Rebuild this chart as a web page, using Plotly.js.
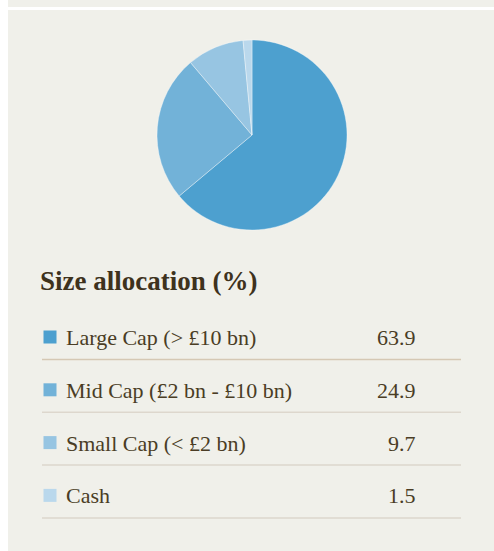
<!DOCTYPE html>
<html>
<head>
<meta charset="utf-8">
<script src="https://cdn.plot.ly/plotly-3.0.1.min.js"></script>
<style>
html,body{margin:0;padding:0;background:#ffffff;}
#chart{width:494px;height:551px;}
</style>
</head>
<body>
<div id="chart"></div>
<script>
// Data
const categories = ["Large Cap (> £10 bn)", "Mid Cap (£2 bn - £10 bn)", "Small Cap (< £2 bn)", "Cash"];
const values = [63.9, 24.9, 9.7, 1.5];
const valueLabels = ["63.9", "24.9", "9.7", "1.5"];
const colors = ["#4da0cf", "#72b2d8", "#97c5e2", "#bad8ec"];
const chartTitle = "Size allocation (%)";

const W = 494, H = 551;
const px = x => x / W;
const py = y => 1 - y / H;

const bg = "#f0f0ea";
const textColor = "#4a3d25";
const titleColor = "#3e321d";

const shapes = [
  // white left strip and top band
  {type: "rect", xref: "paper", yref: "paper", x0: 0, x1: px(8), y0: 0, y1: 1, fillcolor: "#ffffff", line: {width: 0}, layer: "below"},
  {type: "rect", xref: "paper", yref: "paper", x0: 0, x1: 1, y0: py(10), y1: py(7), fillcolor: "#ffffff", line: {width: 0}, layer: "below"}
];
const annotations = [
  {xref: "paper", yref: "paper", x: px(38), y: py(281), xanchor: "left", yanchor: "middle", showarrow: false,
   text: "<b>" + chartTitle + "</b>", font: {family: "Liberation Serif, serif", size: 27, color: titleColor}}
];

const firstLine = 359.5, rowStep = 52.8;
categories.forEach((c, i) => {
  const lineY = firstLine + i * rowStep;
  shapes.push({type: "line", xref: "paper", yref: "paper", x0: px(42), x1: px(461), y0: py(lineY), y1: py(lineY),
    line: {color: i === 0 ? "#d5c8b4" : "#ddd7cd", width: 1.5}});
  shapes.push({type: "rect", xref: "paper", yref: "paper", x0: px(43.5), x1: px(56.5), y0: py(lineY - 16), y1: py(lineY - 29),
    fillcolor: colors[i], line: {width: 0}});
  annotations.push({xref: "paper", yref: "paper", x: px(64), y: py(lineY - 22), xanchor: "left", yanchor: "middle", showarrow: false,
    text: c, font: {family: "Liberation Serif, serif", size: 22, color: textColor}});
  annotations.push({xref: "paper", yref: "paper", x: px(418), y: py(lineY - 22), xanchor: "right", yanchor: "middle", showarrow: false,
    text: valueLabels[i], font: {family: "Liberation Serif, serif", size: 22, color: textColor}});
});

const trace = {
  type: "pie",
  labels: categories,
  values: values,
  sort: false,
  direction: "clockwise",
  rotation: 0,
  textinfo: "none",
  hoverinfo: "label+value",
  marker: {colors: colors, line: {color: "rgba(255,255,255,0.45)", width: 0.8}},
  domain: {x: [px(157), px(347)], y: [py(230), py(40)]},
  showlegend: false
};

const layout = {
  width: W, height: H,
  margin: {l: 0, r: 0, t: 0, b: 0},
  paper_bgcolor: bg,
  plot_bgcolor: bg,
  showlegend: false,
  shapes: shapes,
  annotations: annotations
};

Plotly.newPlot("chart", [trace], layout, {displayModeBar: false, staticPlot: true});
</script>
</body>
</html>
